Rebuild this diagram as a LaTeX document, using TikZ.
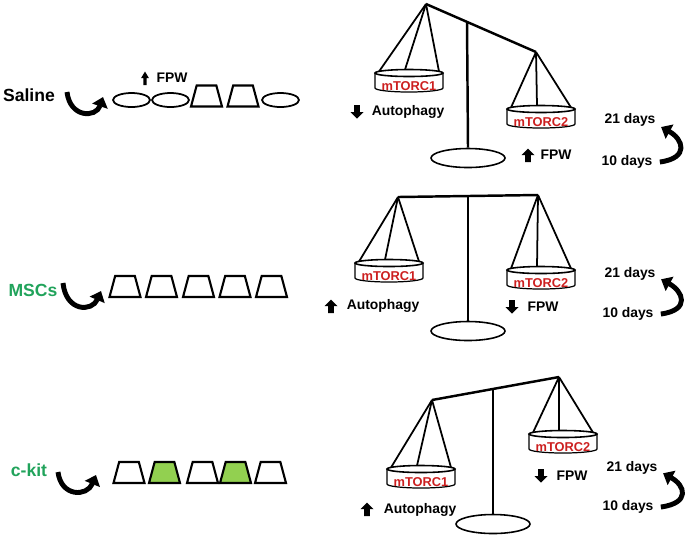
\documentclass[tikz,border=0pt]{standalone}
\usepackage{fontspec}
\setmainfont{Liberation Sans}
\usetikzlibrary{arrows.meta,shapes.geometric}
\definecolor{grn}{HTML}{21A35B}
\definecolor{lgrn}{HTML}{92D050}
\definecolor{tred}{HTML}{CC1F1F}

\tikzset{
  cell/.style={draw,line width=1.2pt,trapezium,trapezium angle=74,trapezium stretches=true,
    minimum width=0.62cm,minimum height=0.42cm,inner sep=1pt},
  blob/.style={draw,line width=1pt,ellipse,minimum width=0.74cm,minimum height=0.28cm,inner sep=1pt},
  grp/.style={font=\bfseries\fontsize{10}{12}\selectfont},
  lbl/.style={font=\bfseries\fontsize{7.9}{9}\selectfont,inner sep=1pt},
  beam/.style={line width=1.4pt},
  thread/.style={line width=1pt},
  foot/.style={draw,line width=0.9pt,ellipse,minimum width=1.48cm,minimum height=0.38cm,inner sep=1pt},
  turn/.style={line width=2.8pt,-{Triangle[length=5.5pt,width=9pt]}},
  pan/.pic={
    \draw[line width=0.7pt] (-34,0) -- (-34,15) arc[start angle=180,end angle=0,x radius=34,y radius=4] -- (34,0);
    \draw[line width=0.9pt] (0,0) ellipse[x radius=34,y radius=3.5];
    \node[font=\bfseries\fontsize{7.3}{8}\selectfont,text=tred,inner sep=0pt] (-txt) at (0,13) {#1};
    \coordinate (-l) at (-30,-1.5);
    \coordinate (-m) at (-4,-3.4);
    \coordinate (-r) at (30,-1.5);
  },
  up/.pic={\fill (-2.8,7) -- (2.8,7) -- (2.8,0) -- (6.5,0) -- (0,-6.5) -- (-6.5,0) -- (-2.8,0) -- cycle;},
  down/.pic={\fill (-2.8,-7) -- (2.8,-7) -- (2.8,0) -- (6.5,0) -- (0,6.5) -- (-6.5,0) -- (-2.8,0) -- cycle;},
}

\begin{document}
\begin{tikzpicture}[x=0.02cm,y=-0.02cm]
  \useasboundingbox (0,0) rectangle (685,539);

  % saline
  \node[grp] (sal) at (29,95) {Saline};
  \draw[turn] (67,92) .. controls (70,118) and (96,118) .. (103,97);
  \foreach \x/\y/\s [count=\i] in {131.5/100/blob,170.5/100/blob,206.5/96/cell,243/96/cell,280.5/100/blob}
    \node[\s] (s\i) at (\x,\y) {};
  \pic[xscale=0.6] at (145,78) {up};
  \node[lbl] (fpw0) at (172,78) {FPW};

  \coordinate (b1l) at (426,4);
  \coordinate (b1r) at (536,52);
  \coordinate (b1s) at (467,22);
  \draw[beam] (b1l) -- (b1r);
  \node[foot] (f1) at (468,158) {};
  \draw[beam] (b1s) -- (f1.north);
  \pic (p11) at (409,73) {pan=mTORC1};
  \pic (p12) at (541,109) {pan=mTORC2};
  \foreach \a in {l,m,r} {
    \draw[thread] (b1l) -- (p11-\a);
    \draw[thread] (b1r) -- (p12-\a);
  }
  \pic at (357,112) {down};
  \node[lbl] (aut1) at (408,112) {Autophagy};
  \pic at (528,155) {up};
  \node[lbl] (fpw1) at (556,155) {FPW};
  \node[lbl] (d21a) at (630,120) {21 days};
  \node[lbl] (d10a) at (627,162) {10 days};
  \draw[turn] ([xshift=3pt]d10a.east) .. controls +(30,-4) and +(22,12) .. ([xshift=2pt,yshift=-4pt]d21a.east);

  % MSCs
  \node[grp,text=grn] (msc) at (33,290) {MSCs};
  \draw[turn] (63,283) .. controls (66,312) and (92,312) .. (101,291);
  \foreach \x [count=\i] in {125,161.5,198.5,235,271.5}
    \node[cell] (m\i) at (\x,286.5) {};

  \coordinate (b2l) at (398,197);
  \coordinate (b2r) at (538,195);
  \coordinate (b2s) at (468,196);
  \draw[beam] (b2l) -- (b2r);
  \node[foot] (f2) at (468,331) {};
  \draw[beam] (b2s) -- (f2.north);
  \pic (p21) at (389,263) {pan=mTORC1};
  \pic (p22) at (541,270) {pan=mTORC2};
  \foreach \a in {l,m,r} {
    \draw[thread] (b2l) -- (p21-\a);
    \draw[thread] (b2r) -- (p22-\a);
  }
  \pic at (331,306) {up};
  \node[lbl] (aut2) at (383,306) {Autophagy};
  \pic at (512,307) {down};
  \node[lbl] (fpw2) at (543,307) {FPW};
  \node[lbl] (d21b) at (630,274) {21 days};
  \node[lbl] (d10b) at (628,314) {10 days};
  \draw[turn] ([xshift=3pt]d10b.east) .. controls +(30,-4) and +(22,12) .. ([xshift=2pt,yshift=-3pt]d21b.east);

  % c-kit
  \node[grp,text=grn] (ckit) at (29,470) {c-kit};
  \draw[turn] (58,472) .. controls (61,497) and (87,497) .. (96,475);
  \foreach \x/\c [count=\i] in {129/white,164.5/lgrn,202.5/white,235.5/lgrn,270.5/white}
    \node[cell,fill=\c] (k\i) at (\x,472.5) {};

  \coordinate (b3l) at (432,400);
  \coordinate (b3r) at (559,377);
  \coordinate (b3s) at (493,389);
  \draw[beam] (b3l) -- (b3r);
  \node[foot] (f3) at (493,524) {};
  \draw[beam] (b3s) -- (f3.north);
  \pic (p31) at (421,469) {pan=mTORC1};
  \pic (p32) at (563,434) {pan=mTORC2};
  \foreach \a in {l,m,r} {
    \draw[thread] (b3l) -- (p31-\a);
    \draw[thread] (b3r) -- (p32-\a);
  }
  \pic at (367,509) {up};
  \node[lbl] (aut3) at (420,510) {Autophagy};
  \pic at (541,476) {down};
  \node[lbl] (fpw3) at (572,476) {FPW};
  \node[lbl] (d21c) at (632,468) {21 days};
  \node[lbl] (d10c) at (628,507) {10 days};
  \draw[turn] ([xshift=3pt]d10c.east) .. controls +(30,-4) and +(22,12) .. ([xshift=2pt,yshift=-3pt]d21c.east);
\end{tikzpicture}
\end{document}
